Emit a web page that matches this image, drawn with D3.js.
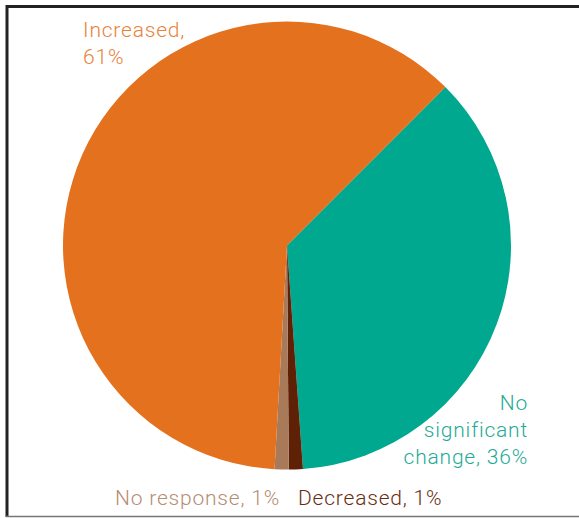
<!DOCTYPE html>
<html>
<head>
<meta charset="utf-8">
<script src="https://cdn.jsdelivr.net/npm/d3@7"></script>
<style>
  html, body { margin: 0; padding: 0; background: #fff; }
  svg { display: block; }
  text { font-family: Roboto, "Liberation Sans", Arial, sans-serif; font-weight: 300; letter-spacing: 0.8px; }
</style>
</head>
<body>
<svg id="chart" width="579" height="518"></svg>
<script>
// Slices in clockwise order, starting at the upper-right boundary
const categories = ["No significant change", "Decreased", "No response", "Increased"];
const values = [36, 1, 1, 61];
const sliceColors = ["#00a88f", "#5e2106", "#a97a5a", "#e3711e"];
const labelColors = ["#1fab95", "#6a2c10", "#b48d73", "#e8823a"];
const labelLines = [
  ["No", "significant", "change, 36%"],
  ["Decreased, 1%"],
  ["No response, 1%"],
  ["Increased,", "61%"]
];

const svg = d3.select("#chart");
const cx = 287, cy = 245.5, r = 224;

// frame
svg.append("line").attr("x1", 6).attr("x2", 579).attr("y1", 6.5).attr("y2", 6.5)
  .attr("stroke", "#222").attr("stroke-width", 3);
svg.append("line").attr("x1", 7).attr("x2", 7).attr("y1", 5).attr("y2", 517)
  .attr("stroke", "#222").attr("stroke-width", 3);
svg.append("line").attr("x1", 6).attr("x2", 579).attr("y1", 516.5).attr("y2", 516.5)
  .attr("stroke", "#777").attr("stroke-width", 1.5);

const start = 45 * Math.PI / 180;
const pie = d3.pie().sort(null).value(d => d)
  .startAngle(start).endAngle(start + 2 * Math.PI);
const arc = d3.arc().innerRadius(0).outerRadius(r);

const g = svg.append("g").attr("transform", `translate(${cx},${cy})`);
g.selectAll("path").data(pie(values)).join("path")
  .attr("d", arc)
  .attr("fill", (d, i) => sliceColors[i]);

// labels
const labelPos = [
  { x: 528, y: 410, anchor: "end" },
  { x: 298, y: 505, anchor: "start" },
  { x: 115, y: 505, anchor: "start" },
  { x: 83, y: 37, anchor: "start" }
];
const lineH = 27;
labelLines.forEach((lines, i) => {
  const p = labelPos[i];
  const t = svg.append("text")
    .attr("x", p.x).attr("y", p.y)
    .attr("text-anchor", p.anchor)
    .attr("fill", labelColors[i])
    .attr("font-size", 21);
  lines.forEach((s, j) => {
    t.append("tspan").attr("x", p.x).attr("dy", j === 0 ? 0 : lineH).text(s);
  });
});
</script>
</body>
</html>
